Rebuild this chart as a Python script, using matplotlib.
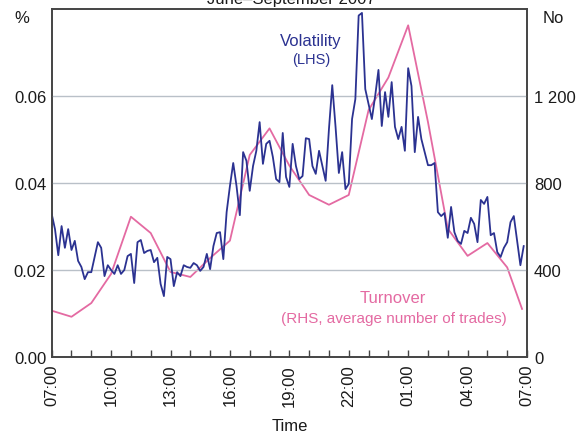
import matplotlib
matplotlib.use('Agg')
import matplotlib.pyplot as plt
import numpy as np

plt.rcParams['font.family'] = ['Liberation Sans', 'DejaVu Sans']

# volatility, 10-minute intervals starting 07:00 (per cent)
volatility = [
    0.0329, 0.0294, 0.0234, 0.0301, 0.0251, 0.0294, 0.0246, 0.0267, 0.0221, 0.0207,
    0.0179, 0.0195, 0.0195, 0.0230, 0.0264, 0.0251, 0.0186, 0.0211, 0.0200, 0.0191,
    0.0211, 0.0191, 0.0200, 0.0232, 0.0237, 0.0170, 0.0264, 0.0269, 0.0239, 0.0244,
    0.0246, 0.0218, 0.0228, 0.0168, 0.0140, 0.0230, 0.0225, 0.0163, 0.0195, 0.0186,
    0.0211, 0.0207, 0.0205, 0.0216, 0.0211, 0.0198, 0.0207, 0.0237, 0.0202, 0.0255,
    0.0285, 0.0287, 0.0225, 0.0333, 0.0393, 0.0446, 0.0393, 0.0326, 0.0471, 0.0451,
    0.0382, 0.0439, 0.0474, 0.0540, 0.0444, 0.0490, 0.0497, 0.0460, 0.0409, 0.0402,
    0.0515, 0.0414, 0.0391, 0.0490, 0.0439, 0.0409, 0.0416, 0.0503, 0.0501, 0.0439,
    0.0421, 0.0474, 0.0439, 0.0405, 0.0524, 0.0625, 0.0529, 0.0423, 0.0471, 0.0386,
    0.0398, 0.0547, 0.0593, 0.0785, 0.0791, 0.0616, 0.0582, 0.0547, 0.0600, 0.0660,
    0.0531, 0.0609, 0.0552, 0.0632, 0.0529, 0.0501, 0.0529, 0.0474, 0.0664, 0.0623,
    0.0471, 0.0552, 0.0501, 0.0471, 0.0441, 0.0441, 0.0446, 0.0333, 0.0324, 0.0331,
    0.0274, 0.0345, 0.0287, 0.0267, 0.0260, 0.0290, 0.0285, 0.0320, 0.0306, 0.0264,
    0.0361, 0.0352, 0.0368, 0.0280, 0.0285, 0.0241, 0.0230, 0.0251, 0.0264, 0.0310,
    0.0324, 0.0267, 0.0211, 0.0255,
]
vol_hours = np.arange(len(volatility)) / 6.0   # hours after 07:00

# turnover, hourly (average number of trades)
turn_hours = [0, 1, 2, 3, 4, 5, 6, 7, 8, 9, 10, 11, 12, 13, 14, 15, 16, 17,
              18, 19, 20, 21, 22, 23, 23.75]
turnover = [213, 185, 248, 382, 645, 570, 391, 368, 455, 535, 929, 1051, 880,
            745, 700, 745, 1135, 1285, 1525, 1080, 590, 465, 524, 412, 221]

tick_labels = ['07:00', '10:00', '13:00', '16:00', '19:00', '22:00',
               '01:00', '04:00', '07:00']

blue = '#2b3291'
pink = '#e46aa2'
grid_col = '#b9c0c8'
txt = '#1a1a1a'

fig = plt.figure(figsize=(5.82, 4.35), dpi=100)
ax = fig.add_axes([0.0888, 0.177, 0.8167, 0.8])
ax2 = ax.twinx()
ax.set_zorder(ax2.get_zorder() + 1)
ax.patch.set_visible(False)

ax2.plot(turn_hours, turnover, color=pink, linewidth=1.3)
ax.plot(vol_hours, volatility, color=blue, linewidth=1.3)

ax.set_xlim(0, 24)
ax.set_ylim(0, 0.08)
ax2.set_ylim(0, 1600)

for y in [0.02, 0.04, 0.06]:
    ax.axhline(y, color=grid_col, linewidth=1.0, zorder=0)

ax.set_yticks([0, 0.02, 0.04, 0.06])
ax.set_yticklabels(['0.00', '0.02', '0.04', '0.06'])
ax2.set_yticks([0, 400, 800, 1200])
ax2.set_yticklabels(['0', '400', '800', '1 200'])
ax.tick_params(axis='y', length=0, labelsize=12, colors=txt, pad=4)
ax2.tick_params(axis='y', length=0, labelsize=12, colors=txt, pad=5)

ax.set_xticks(np.arange(0, 25, 1), minor=True)
ax.set_xticks(np.arange(0, 25, 3))
ax.set_xticklabels(tick_labels, rotation=90, fontsize=12, color=txt)
ax.tick_params(axis='x', which='both', direction='in', length=5, width=1,
               color='#444444', pad=5)
ax.set_xlabel('Time', fontsize=12, color=txt, labelpad=9)

for a in (ax, ax2):
    for sp in a.spines.values():
        sp.set_color('#444444')
        sp.set_linewidth(1.2)

fig.text(0.037, 0.958, '%', fontsize=12, color=txt, ha='center', va='center')
fig.text(0.933, 0.958, 'No', fontsize=12, color=txt, ha='left', va='center')
# title is cut by the top edge in the original too
fig.text(0.5, 1 - 4 / 435, 'June–September 2007', fontsize=12, color=txt,
         ha='center', va='baseline')

ax.text(13.1, 0.0728, 'Volatility', color=blue, fontsize=12,
        ha='center', va='center')
ax.text(13.1, 0.0686, '(LHS)', color=blue, fontsize=10.5,
        ha='center', va='center')
ax.text(17.2, 0.0137, 'Turnover', color=pink, fontsize=12,
        ha='center', va='center')
ax.text(17.3, 0.0090, '(RHS, average number of trades)', color=pink,
        fontsize=11, ha='center', va='center')

fig.savefig('out.png', dpi=100)
